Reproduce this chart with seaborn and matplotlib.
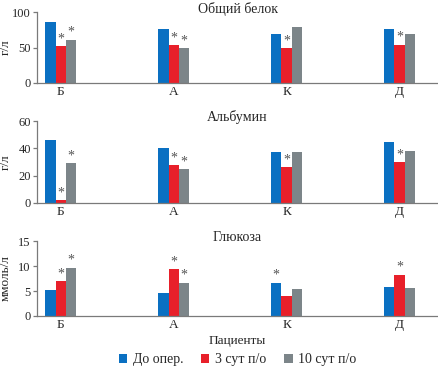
"""
Three-panel grouped bar chart: total protein, albumin and glucose per patient.
"""

import pandas as pd
import seaborn as sns
import matplotlib.pyplot as plt

patients = ["Б", "А", "К", "Д"]
periods = ["До опер.", "3 сут п/о", "10 сут п/о"]

protein = [[86, 52, 61], [76, 53, 49], [69, 49, 79], [76, 54, 69]]
albumin = [[46, 2, 29], [40, 28, 25], [37, 26, 37], [45, 30, 38]]
glucose = [[5.3, 7.0, 9.7], [4.7, 9.4, 6.7], [6.7, 4.0, 5.5], [5.8, 8.3, 5.7]]

# 1 = significant difference (asterisk over the bar)
protein_sig = [[0, 1, 1], [0, 1, 1], [0, 1, 0], [0, 1, 0]]
albumin_sig = [[0, 1, 1], [0, 1, 1], [0, 1, 0], [0, 1, 0]]
glucose_sig = [[0, 1, 1], [0, 1, 1], [1, 0, 0], [0, 1, 0]]

titles = ["Общий белок", "Альбумин", "Глюкоза"]
ylabels = ["г/л", "г/л", "ммоль/л"]
yticks = [[0, 50, 100], [0, 20, 40, 60], [0, 5, 10, 15]]

colors = ["#0a70c2", "#e8202a", "#7c8589"]
axis_color = "#7a7a7a"


def to_frame(values):
    rows = []
    for i, p in enumerate(patients):
        for j, per in enumerate(periods):
            rows.append({"patient": p, "period": per, "value": values[i][j]})
    return pd.DataFrame(rows)


def draw_panel(ax, values, sig, title, ylabel, ticks, legend):
    df = to_frame(values)
    sns.barplot(data=df, x="patient", y="value", hue="period",
                order=patients, hue_order=periods, palette=colors,
                width=0.275, saturation=1, linewidth=0, ax=ax,
                legend=legend, errorbar=None)

    # asterisks over the bars
    for j, cont in enumerate(ax.containers):
        for i, bar in enumerate(cont):
            if sig[i][j]:
                x = bar.get_x() + bar.get_width() / 2
                ax.annotate("*", (x, bar.get_height()), xytext=(0, 0.5),
                            textcoords="offset points", ha="center",
                            va="bottom", fontsize=10, color="#555555")

    ax.set_xlim(-0.21, 3.34)
    ax.set_ylim(0, ticks[-1])
    ax.set_yticks(ticks)
    ax.set_ylabel(ylabel, fontsize=9.5)
    ax.yaxis.set_label_coords(-0.063, 0.5)
    ax.set_xlabel("")
    ax.text(0.5, 1.05, title, transform=ax.transAxes, ha="center",
            va="center", fontsize=10)
    sns.despine(ax=ax)
    for s in ["left", "bottom"]:
        ax.spines[s].set_color(axis_color)
        ax.spines[s].set_linewidth(0.9)
    ax.tick_params(axis="y", length=3, width=0.9, color=axis_color,
                   labelsize=9, pad=1.5)
    ax.tick_params(axis="x", length=0, labelsize=9.5, pad=2)


sns.set_style("ticks")
plt.rcParams["font.family"] = ["Liberation Serif", "DejaVu Serif"]

fig = plt.figure(figsize=(4.38, 3.67), dpi=100)
boxes = [(0.0845, 0.774, 0.9155, 0.193),
         (0.0845, 0.447, 0.9155, 0.223),
         (0.0845, 0.139, 0.9155, 0.204)]
data = [protein, albumin, glucose]
sigs = [protein_sig, albumin_sig, glucose_sig]

for k in range(3):
    ax = fig.add_axes(boxes[k])
    draw_panel(ax, data[k], sigs[k], titles[k], ylabels[k], yticks[k], k == 2)

ax.set_xlabel("Пациенты", fontsize=9.5, labelpad=3)
sns.move_legend(ax, "upper center", bbox_to_anchor=(0.5, -0.33), ncol=3,
                frameon=False, title=None, fontsize=10, handlelength=0.6,
                handleheight=0.6, handletextpad=0.4, columnspacing=1.3)

fig.savefig("out.png", dpi=100)
